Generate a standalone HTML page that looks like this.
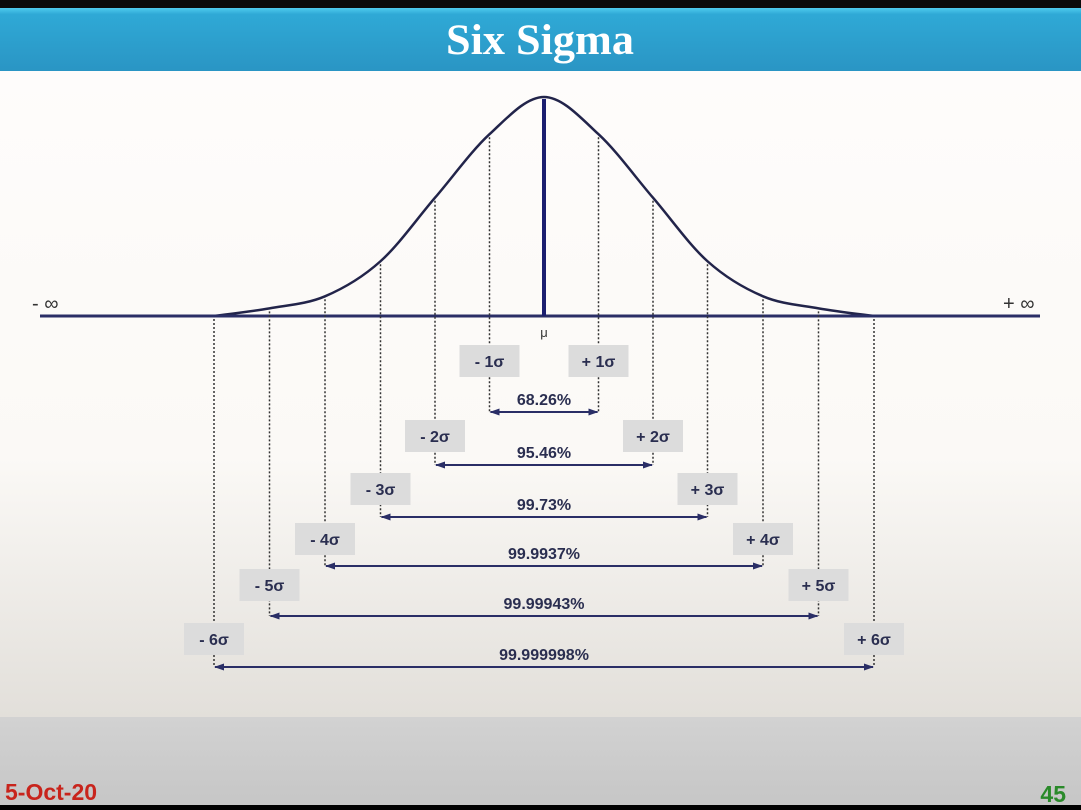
<!DOCTYPE html>
<html><head><meta charset="utf-8"><style>
body{margin:0;width:1081px;height:805px;overflow:hidden;font-family:"Liberation Sans",sans-serif;background:#000}
#wrap{position:absolute;left:0;top:0;width:1081px;height:805px}
</style></head><body>
<div id="wrap">
<svg width="1081" height="805">
<defs>
<linearGradient id="hdr" x1="0" y1="0" x2="0" y2="1"><stop offset="0" stop-color="#4fcbee"/><stop offset="0.1" stop-color="#2fa9d6"/><stop offset="1" stop-color="#2a95c4"/></linearGradient>
<linearGradient id="bg" x1="0" y1="0" x2="0" y2="1"><stop offset="0" stop-color="#fefcfb"/><stop offset="0.6" stop-color="#fbf9f6"/><stop offset="1" stop-color="#e2dfda"/></linearGradient>
<linearGradient id="ft" x1="0" y1="0" x2="0" y2="1"><stop offset="0" stop-color="#d2d2d2"/><stop offset="1" stop-color="#c6c6c6"/></linearGradient>
<marker id="ah" markerWidth="10" markerHeight="8" refX="9" refY="4" orient="auto-start-reverse" markerUnits="userSpaceOnUse"><path d="M0,0.5 L10,4 L0,7.5 z" fill="#2a2e66"/></marker>
</defs>
<rect x="0" y="0" width="1081" height="8" fill="#0b0b0b"/>
<rect x="0" y="8" width="1081" height="63" fill="url(#hdr)"/>
<text x="540" y="0" transform="translate(0,54) scale(1,1.15)" text-anchor="middle" font-family="Liberation Serif,serif" font-weight="bold" font-size="38" fill="#fff" textLength="188" lengthAdjust="spacingAndGlyphs">Six Sigma</text>
<rect x="0" y="71" width="1081" height="646" fill="url(#bg)"/>
<rect x="0" y="717" width="1081" height="88" fill="url(#ft)"/>
<text x="5" y="800" font-size="23" font-weight="bold" fill="#c8241c">5-Oct-20</text>
<text x="1066" y="802" font-size="23" font-weight="bold" fill="#2a8a2a" text-anchor="end">45</text>
<g id="chart"></g>
</svg>
</div>
<script>
const sigmaLevels=[1,2,3,4,5,6];
const percentLabels=["68.26%","95.46%","99.73%","99.9937%","99.99943%","99.999998%"];
const curveSigma=[0,1,2,3,4,5,6];
const curveHeight=[1,0.83,0.54,0.25,0.09,0.035,0];
const NS="http://www.w3.org/2000/svg";
const g=document.getElementById('chart');
const cx=544, base=316, peak=97;
function xs(s){const a=Math.abs(s);const d=a<=3?a*54.5:163.5+(a-3)*55.5;return cx+Math.sign(s)*d;}
function ys(h){return base-h*(base-peak);}
function mk(t,a){const e=document.createElementNS(NS,t);for(const k in a)e.setAttribute(k,a[k]);g.appendChild(e);return e;}
let pts=[];
for(let i=curveSigma.length-1;i>=0;i--)pts.push([xs(-curveSigma[i]),ys(curveHeight[i])]);
for(let i=1;i<curveSigma.length;i++)pts.push([xs(curveSigma[i]),ys(curveHeight[i])]);
let d="M"+pts[0][0]+","+pts[0][1];
for(let i=0;i<pts.length-1;i++){const p0=pts[Math.max(0,i-1)],p1=pts[i],p2=pts[i+1],p3=pts[Math.min(pts.length-1,i+2)];
d+=` C${p1[0]+(p2[0]-p0[0])/6},${p1[1]+(p2[1]-p0[1])/6} ${p2[0]-(p3[0]-p1[0])/6},${p2[1]-(p3[1]-p1[1])/6} ${p2[0]},${p2[1]}`;}
const curve=mk('path',{d:d,fill:'none',stroke:'#22244a','stroke-width':2.5});


const axis=mk('line',{x1:40,y1:base,x2:1040,y2:base,stroke:'#2a2e66','stroke-width':3});


const meanL=mk('line',{x1:cx,y1:peak+2,x2:cx,y2:base,stroke:'#1c1f70','stroke-width':4});


const mu=mk('text',{x:cx,y:337,'text-anchor':'middle','font-size':13,fill:'#333'});mu.textContent='μ';


const ni=mk('text',{x:32,y:310,'font-size':20,fill:'#333'});ni.textContent='- ∞';


const pi=mk('text',{x:1003,y:310,'font-size':20,fill:'#333'});pi.textContent='+ ∞';


const arrowY=[412,465,517,566,616,667];
const boxTop=[345,420,473,523,569,623];
function hAt(s){const a=Math.abs(s);const i=Math.floor(a);const f=a-i;return i>=6?0:curveHeight[i]*(1-f)+curveHeight[i+1]*f;}
sigmaLevels.forEach((s,i)=>{
 [-1,1].forEach(sg=>{
  const x=xs(sg*s);
  const dl=mk('line',{x1:x,y1:ys(hAt(s))+3,x2:x,y2:arrowY[i],stroke:'#333','stroke-width':1.5,'stroke-dasharray':'2,2'});
  
  
  const r=mk('rect',{x:x-30,y:boxTop[i],width:60,height:32,fill:'#dcdcdc'});
  
  
  const t=mk('text',{x:x,y:boxTop[i]+22,'text-anchor':'middle','font-size':16,'font-weight':'bold',fill:'#2a2e50'});
  t.textContent=(sg<0?'- ':'+ ')+s+'σ';
  
  
 });
 const a=mk('line',{x1:xs(-s)+1,y1:arrowY[i],x2:xs(s)-1,y2:arrowY[i],stroke:'#2a2e66','stroke-width':2,'marker-start':'url(#ah)','marker-end':'url(#ah)'});
 
 
 const p=mk('text',{x:cx,y:arrowY[i]-7,'text-anchor':'middle','font-size':16,'font-weight':'bold',fill:'#2a2e50'});
 p.textContent=percentLabels[i];
 
 
});
</script>
</body></html>
